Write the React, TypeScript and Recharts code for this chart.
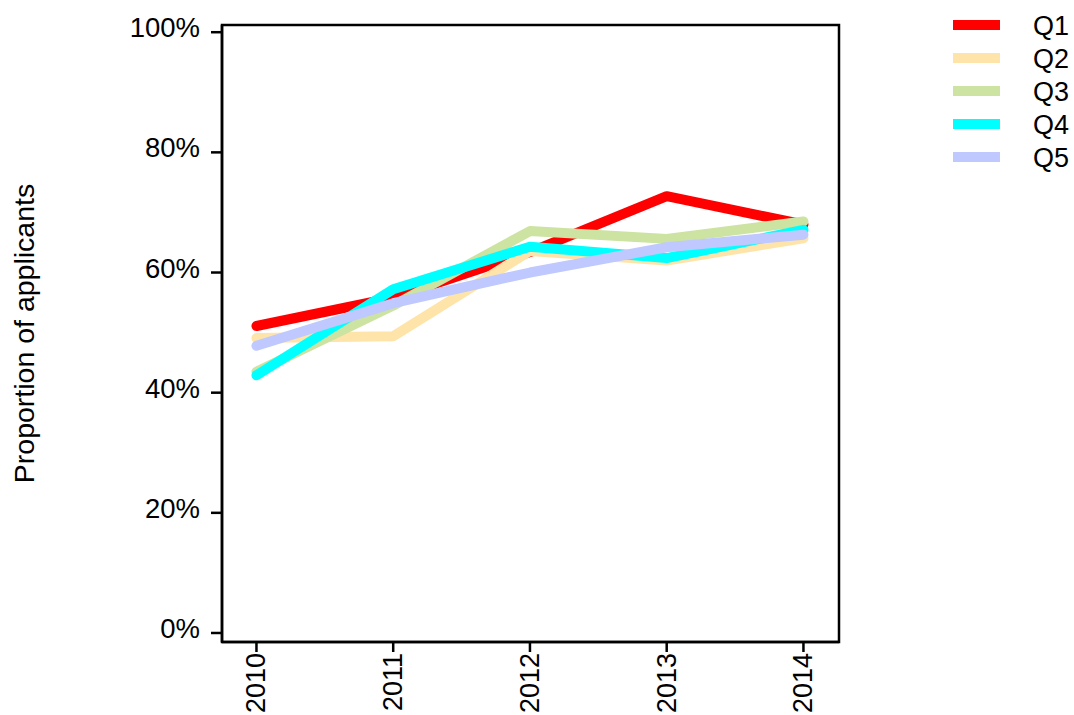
import { LineChart, Line, XAxis, YAxis, ReferenceArea, Label } from 'recharts';

const years = [2010, 2011, 2012, 2013, 2014];
const q1 = [51.1, 55.8, 63.4, 72.7, 68.0];
const q2 = [49.1, 49.4, 63.6, 62.0, 65.7];
const q3 = [43.5, 54.5, 66.9, 65.6, 68.5];
const q4 = [42.9, 57.2, 64.3, 62.4, 67.1];
const q5 = [47.8, 54.9, 60.0, 64.2, 66.3];
const yTicks = [0, 20, 40, 60, 80, 100];

const series = [
  { key: 'q1', name: 'Q1', color: '#ff0000', values: q1 },
  { key: 'q2', name: 'Q2', color: '#ffe4a9', values: q2 },
  { key: 'q3', name: 'Q3', color: '#cce3a2', values: q3 },
  { key: 'q4', name: 'Q4', color: '#00ffff', values: q4 },
  { key: 'q5', name: 'Q5', color: '#bfc8ff', values: q5 },
];

const data = years.map((year, i) => {
  const row: { [k: string]: number } = { year };
  series.forEach((s) => {
    row[s.key] = s.values[i];
  });
  return row;
});

const X_DOMAIN: [number, number] = [2009.748, 2014.26];
const Y_DOMAIN: [number, number] = [-1.5, 101.2];
const FONT = '"Liberation Sans", Arial, Helvetica, sans-serif';

const YTick = ({ x, y, payload }: any) => (
  <text x={x - 11} y={y + 5} textAnchor="end" fontSize={27.5} fontFamily={FONT} fill="#000">
    {payload.value}%
  </text>
);

// rotated year labels, kept just inside the bottom edge
const XTick = ({ x, y, payload }: any) => (
  <text
    transform={`translate(${x + 9}, ${y + 1}) rotate(-90)`}
    textAnchor="end"
    fontSize={27}
    fontFamily={FONT}
    fill="#000"
  >
    {payload.value}
  </text>
);

export default function App() {
  return (
    <div style={{ position: 'absolute', left: 0, top: 0, width: 1074, height: 715, background: '#fff' }}>
      <LineChart
        width={1074}
        height={715}
        data={data}
        margin={{ top: 25, right: 235, left: 122, bottom: 13 }}
      >
        <XAxis
          dataKey="year"
          type="number"
          domain={X_DOMAIN}
          ticks={years}
          allowDataOverflow
          height={60}
          tick={<XTick />}
          tickSize={10}
          tickMargin={0}
          axisLine={{ stroke: '#000', strokeWidth: 2.5 }}
          tickLine={{ stroke: '#000', strokeWidth: 2.5 }}
        />
        <YAxis
          type="number"
          domain={Y_DOMAIN}
          ticks={yTicks}
          allowDataOverflow
          width={100}
          tick={<YTick />}
          tickSize={11}
          tickMargin={0}
          axisLine={{ stroke: '#000', strokeWidth: 2.5 }}
          tickLine={{ stroke: '#000', strokeWidth: 2.5 }}
        >
          <Label
            content={({ viewBox }: any) => (
              <text
                transform={`translate(34, ${viewBox.y + viewBox.height / 2}) rotate(-90)`}
                textAnchor="middle"
                fontSize={28.5}
                fontFamily={FONT}
                fill="#000"
              >
                Proportion of applicants
              </text>
            )}
          />
        </YAxis>
        <ReferenceArea
          x1={X_DOMAIN[0]}
          x2={X_DOMAIN[1]}
          y1={Y_DOMAIN[0]}
          y2={Y_DOMAIN[1]}
          fill="none"
          stroke="#000"
          strokeWidth={2.5}
          ifOverflow="visible"
        />
        {series.map((s) => (
          <Line
            key={s.key}
            dataKey={s.key}
            name={s.name}
            stroke={s.color}
            strokeWidth={10}
            strokeLinecap="round"
            strokeLinejoin="round"
            dot={false}
            activeDot={false}
            isAnimationActive={false}
          />
        ))}
      </LineChart>
      <svg width={140} height={180} style={{ position: 'absolute', left: 934, top: 0 }}>
        {series.map((s, i) => (
          <g key={s.key}>
            <line x1={19} x2={66} y1={25 + i * 33} y2={25 + i * 33} stroke={s.color} strokeWidth={10} />
            <text x={99} y={35 + i * 33} fontSize={27} fontFamily={FONT} fill="#000">
              {s.name}
            </text>
          </g>
        ))}
      </svg>
    </div>
  );
}
